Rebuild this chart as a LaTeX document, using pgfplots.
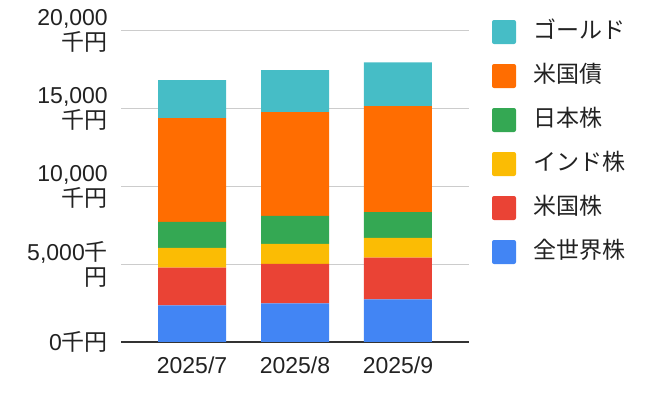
\documentclass[border=0pt]{standalone}
\usepackage{fontspec}
\setmainfont{Liberation Sans}
\newfontfamily\cjk{Noto Sans CJK JP}
\usepackage{pgfplots}
\pgfplotsset{compat=1.18}
\definecolor{cBlue}{HTML}{4285F4}
\definecolor{cRed}{HTML}{EA4335}
\definecolor{cYellow}{HTML}{FBBC04}
\definecolor{cGreen}{HTML}{34A853}
\definecolor{cOrange}{HTML}{FF6D01}
\definecolor{cTeal}{HTML}{46BDC6}
\definecolor{cGrid}{HTML}{CCCCCC}
\definecolor{cBase}{HTML}{333333}
\definecolor{cText}{HTML}{222222}
\begin{document}
\begin{tikzpicture}[font=\fontsize{23bp}{25bp}\selectfont]
\path[use as bounding box] (0,0) rectangle (648bp,398bp);
\begin{axis}[
  at={(121bp,56bp)}, anchor=south west,
  scale only axis, width=348bp, height=311bp,
  xmin=-0.69, xmax=2.69, ymin=0, ymax=20000,
  ybar stacked, bar width=68bp,
  axis x line*=bottom, axis y line*=left,
  x axis line style={color=cBase, line width=1.3bp},
  y axis line style={draw=none},
  tick style={draw=none}, major tick length=0pt,
  ymajorgrids, grid style={color=cGrid, line width=1bp},
  ytick={0,5000,10000,15000,20000},
  yticklabels={{0\cjk{千円}},{5,000\cjk{千}\\\cjk{円}},{10,000\\\cjk{千円}},{15,000\\\cjk{千円}},{20,000\\\cjk{千円}}},
  yticklabel style={align=right, anchor=east, inner sep=0pt, xshift=-13bp, text=cText},
  scaled y ticks=false,
  xtick={0,1,2}, xticklabels={2025/7,2025/8,2025/9},
  xticklabel style={anchor=north, inner sep=0pt, yshift=-15bp, text=cText},
  reverse legend,
  legend cell align=left,
  legend image code/.code={\fill[#1, draw=none, rounded corners=2bp] (0bp,-12bp) rectangle (24bp,12bp);},
  legend style={at={(axis description cs:0,1)}, anchor=north west, xshift=371bp, yshift=11bp,
    draw=none, fill=none, inner sep=0pt, outer sep=0pt, row sep=20bp, column sep=17bp,
    nodes={inner sep=0pt, text height=18bp, text depth=6bp, text=cText}},
]
\addplot[fill=cBlue, draw=none] coordinates {(0,2350) (1,2480) (2,2740)};
\addlegendentry{\cjk{全世界株}}
\addplot[fill=cRed, draw=none] coordinates {(0,2440) (1,2550) (2,2690)};
\addlegendentry{\cjk{米国株}}
\addplot[fill=cYellow, draw=none] coordinates {(0,1260) (1,1280) (2,1260)};
\addlegendentry{\cjk{インド株}}
\addplot[fill=cGreen, draw=none] coordinates {(0,1670) (1,1800) (2,1670)};
\addlegendentry{\cjk{日本株}}
\addplot[fill=cOrange, draw=none] coordinates {(0,6680) (1,6670) (2,6810)};
\addlegendentry{\cjk{米国債}}
\addplot[fill=cTeal, draw=none] coordinates {(0,2440) (1,2700) (2,2820)};
\addlegendentry{\cjk{ゴールド}}
\end{axis}
\end{tikzpicture}
\end{document}
